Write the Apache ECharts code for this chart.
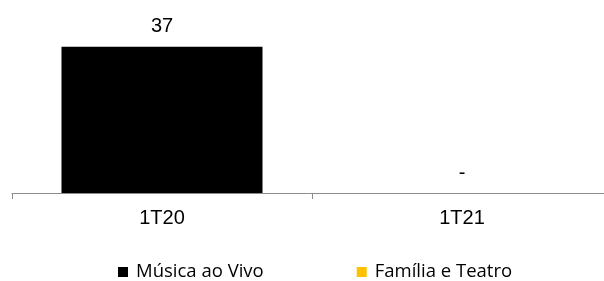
<!DOCTYPE html>
<html>
<head>
<meta charset="utf-8">
<script src="https://cdn.jsdelivr.net/npm/echarts@6/dist/echarts.min.js"></script>
<style>
  html, body { margin: 0; padding: 0; background: #fff; }
  #chart { width: 604px; height: 281px; }
</style>
</head>
<body>
<div id="chart"></div>
<script>
// data
const categories = ['1T20', '1T21'];
const musicaAoVivo = [37, 0];
const familiaTeatro = [0, 0];

let chart = echarts.init(document.getElementById('chart'));
chart.setOption({
  animation: false,
  legend: {
    top: 257,
    left: 113,
    icon: 'rect',
    itemWidth: 10,
    itemHeight: 10,
    itemGap: 93,
    textStyle: {
      fontFamily: 'Open Sans',
      fontSize: 18.5,
      lineHeight: 20,
      color: '#000',
      padding: [0, 0, 0, 3]
    },
    data: ['Música ao Vivo', 'Família e Teatro']
  },
  grid: {
    left: 12,
    width: 600,
    top: 35,
    height: 158,
    outerBoundsMode: 'none'
  },
  xAxis: {
    type: 'category',
    data: categories,
    axisLine: { lineStyle: { color: '#8c8c8c', width: 1 } },
    axisTick: { show: true, length: 6, lineStyle: { color: '#8c8c8c' } },
    axisLabel: {
      margin: 15,
      fontFamily: 'Liberation Sans',
      fontSize: 20,
      color: '#000'
    }
  },
  yAxis: {
    type: 'value',
    min: 0,
    max: 40,
    show: false
  },
  series: [
    {
      name: 'Música ao Vivo',
      type: 'bar',
      stack: 'total',
      barWidth: '67%',
      color: '#000000',
      data: musicaAoVivo,
      label: {
        show: true,
        position: 'top',
        distance: 10,
        fontFamily: 'Liberation Sans',
        fontSize: 20,
        color: '#000',
        formatter: function (p) { return p.value === 0 ? '-' : p.value; }
      }
    },
    {
      name: 'Família e Teatro',
      type: 'bar',
      stack: 'total',
      color: '#FFC000',
      data: familiaTeatro
    }
  ]
});
</script>
</body>
</html>
